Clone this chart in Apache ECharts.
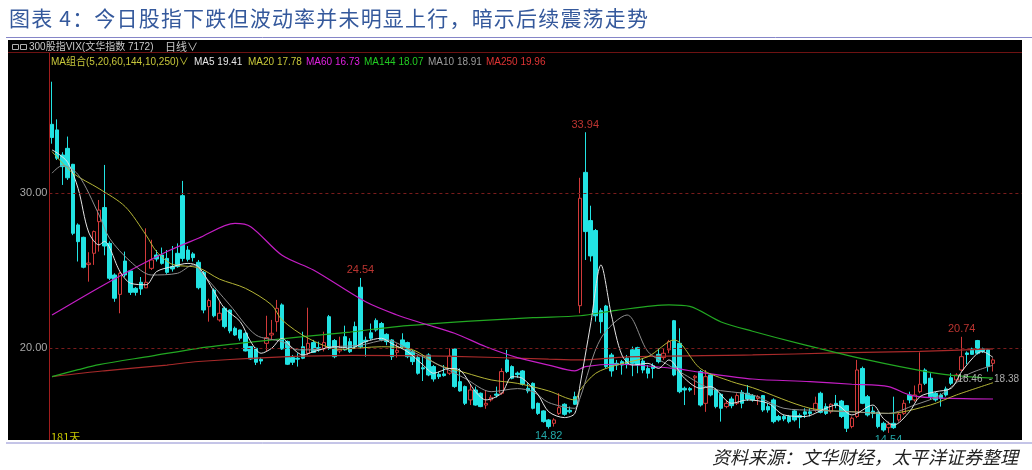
<!DOCTYPE html>
<html><head><meta charset="utf-8">
<script src="https://cdn.jsdelivr.net/npm/echarts@6/dist/echarts.min.js"></script>
<style>html,body{margin:0;padding:0;background:#fff}#c{width:1032px;height:470px}</style>
</head><body><div id="c"></div>
<script>
// ---------- data ----------
const slotCount = 186;          // 181 trading days + empty slots on the right
const dayLabel = '181天';
const opens = [
34.45,34.09,32.47,32.9,31.87,27.96,27.16,25.4,26.13,28.17,
29.08,26.77,24.73,23.48,25.63,24.99,23.87,24.26,23.9,25.16,
26.02,26.02,25.8,25.27,26.13,29.85,26.34,26.09,25.55,24.9,
22.69,23.76,21.83,22.58,22.47,21.29,21.18,20.97,20.11,20.0,
19.29,20.32,20.86,21.72,22.8,20.43,19.4,19.36,20.1,19.68,
20.37,20.04,19.96,22.04,20.5,19.83,20.75,20.43,21.4,23.94,
20.52,21.0,21.8,21.6,20.9,20.54,19.74,20.54,20.37,19.78,
19.4,18.75,19.57,18.82,18.32,18.35,18.39,19.96,17.85,17.53,
16.67,17.31,17.1,16.34,16.67,17.05,17.1,19.25,18.82,18.4,
18.54,17.42,17.74,16.45,15.96,15.38,15.16,15.8,16.39,16.0,
16.88,22.75,31.35,28.24,27.6,22.43,22.73,19.57,19.03,19.14,
19.36,19.9,20.04,19.18,18.7,18.88,19.61,19.4,19.9,21.78,
20.32,17.42,17.4,18.1,18.5,16.45,18.28,17.31,17.03,16.24,
16.73,16.45,17.16,17.1,16.95,16.77,16.95,16.24,16.67,15.6,
15.6,15.6,15.96,15.66,15.9,15.9,16.02,17.1,16.24,15.91,
16.45,16.6,16.3,14.95,15.6,18.7,16.88,15.95,15.87,15.16,
14.88,15.16,15.38,15.8,16.99,16.67,17.2,18.6,18.07,17.1,
16.99,17.38,18.1,17.96,18.6,19.7,19.96,20.5,19.96,19.9,19.03];
const closes = [
33.6,32.26,31.72,31.0,27.42,26.88,25.23,25.5,27.53,28.92,
26.6,24.52,23.23,24.84,24.73,23.61,23.61,23.83,24.26,25.7,
25.76,25.48,24.9,25.12,25.27,25.8,25.74,25.85,23.91,22.47,
23.08,22.1,22.26,21.4,21.12,20.86,20.65,19.83,19.31,19.1,
19.18,20.69,20.97,22.58,19.96,18.97,19.1,19.3,19.36,20.32,
19.74,19.9,20.37,20.0,19.46,19.94,19.9,19.78,20.1,20.1,
20.43,20.65,21.18,20.54,20.43,19.46,19.87,20.1,19.46,19.14,
18.39,18.67,18.28,18.02,18.17,18.24,19.5,17.53,17.25,16.45,
17.31,16.34,16.24,16.45,16.84,16.97,18.5,18.5,18.07,18.3,
17.68,17.25,16.13,15.8,15.27,14.95,15.38,16.17,15.74,15.9,
16.39,29.68,27.53,25.96,22.1,21.72,18.82,18.54,18.92,18.92,
18.97,19.03,18.92,18.6,18.39,18.7,19.14,19.68,20.43,18.28,
17.2,17.31,17.31,18.2,16.34,18.17,16.99,16.24,16.13,16.45,
16.3,16.95,16.45,16.73,16.67,16.88,16.02,16.02,15.27,15.38,
15.44,15.27,15.38,15.55,15.75,15.8,16.45,15.87,15.8,16.39,
16.34,15.6,14.84,15.49,18.6,16.45,15.7,15.8,14.95,14.73,
15.1,14.88,15.74,16.45,16.67,16.99,17.68,17.74,16.88,16.67,
16.77,16.99,17.74,18.28,19.46,19.6,19.61,19.68,19.8,18.82,19.25];
const lows = [
33.2,32.15,30.54,30.86,27.3,25.6,25.16,24.3,25.38,26.24,
26.0,24.4,23.0,22.26,24.6,23.44,23.4,23.44,23.9,25.05,
25.6,25.4,24.8,24.95,25.2,25.6,25.6,25.6,23.8,22.26,
21.72,22.0,21.72,21.29,20.97,20.8,20.5,19.8,19.25,18.92,
18.97,19.8,20.6,21.07,19.9,18.92,18.92,18.82,19.3,19.57,
19.7,19.78,19.8,19.9,19.36,19.68,19.85,19.7,20.0,20.0,
19.46,20.54,21.07,20.45,20.2,19.25,19.4,20.0,19.36,18.92,
18.3,17.89,18.2,17.85,18.02,18.17,18.28,17.45,17.2,16.34,
16.34,16.3,16.2,16.1,16.56,16.82,17.0,18.4,18.0,18.1,
17.6,17.1,16.06,15.7,15.2,14.82,14.95,15.7,15.65,15.8,
16.34,22.26,25.7,25.6,21.72,20.97,18.7,18.17,18.6,18.3,
18.7,18.2,18.39,18.39,18.06,18.06,19.03,19.25,19.68,18.2,
17.1,16.34,17.2,16.99,16.24,15.9,16.9,16.13,15.27,16.13,
16.13,16.34,16.13,16.6,16.56,16.34,15.9,15.85,15.16,15.27,
15.3,15.16,15.27,14.84,15.5,15.6,15.9,15.8,15.7,15.8,
16.13,15.5,14.6,14.84,15.5,16.4,15.6,15.49,14.84,14.62,
14.54,14.8,15.27,15.7,16.45,16.56,17.1,17.63,16.67,16.56,
16.24,16.88,17.63,17.85,18.5,18.97,19.57,19.6,19.7,18.5,18.5];
const highs = [
37.2,34.77,32.65,33.66,31.9,28.06,27.2,26.2,27.6,29.57,
31.83,26.9,24.84,24.95,26.24,25.0,23.95,24.6,27.74,27.0,
26.34,26.5,26.34,26.6,26.77,30.8,26.6,26.2,25.7,25.0,
23.2,23.87,23.0,22.69,22.5,21.4,21.2,21.07,20.15,20.05,
19.4,22.1,21.83,23.12,22.9,20.5,19.57,19.68,21.07,22.62,
20.54,20.43,21.07,22.15,20.6,20.75,21.46,20.65,21.72,24.54,
20.75,21.6,21.93,21.7,20.97,20.6,20.32,20.97,20.43,19.9,
19.57,19.6,19.68,18.92,18.49,18.92,20.0,20.0,18.71,17.6,
17.63,17.53,17.15,17.31,16.99,17.53,18.71,19.9,18.9,18.5,
18.6,17.74,17.8,16.5,16.0,15.44,15.49,17.1,16.45,16.24,
17.2,31.0,33.94,29.2,27.7,22.58,22.8,19.7,19.25,19.25,
19.57,20.11,20.1,19.36,18.92,19.03,20.0,20.0,20.54,21.83,
21.29,17.53,17.5,18.28,18.6,18.6,18.39,17.42,17.1,16.67,
16.88,17.1,17.31,17.63,17.05,16.99,16.99,16.45,16.77,15.7,
15.7,15.7,16.02,15.8,16.13,16.13,16.88,17.2,16.45,16.45,
16.99,16.67,16.34,15.6,19.25,18.82,16.99,16.24,15.91,15.27,
15.27,16.88,15.87,16.67,17.2,17.6,19.74,18.71,18.39,17.2,
17.1,17.53,18.39,18.39,20.74,19.8,20.04,20.54,20.04,20.0,19.36];

// moving averages as [day index, value]
const ma5 = [[0,32.8],[1,32.6],[3,32.0],[5,30.3],[7,27.5],[9,26.67],[10,26.9],[13,24.95],[15,24.2],[18,24.1],[20,24.95],[23,25.27],[26,25.48],[28,25.27],[31,23.66],[33,22.58],[36,21.72],[38,20.43],[40,19.68],[42,20.0],[44,20.65],[46,20.0],[48,19.57],[50,19.78],[54,20.1],[57,20.0],[60,20.43],[63,20.65],[65,20.3],[68,19.78],[71,18.92],[73,18.39],[76,18.7],[78,18.6],[81,17.2],[83,16.67],[86,17.1],[88,18.17],[90,18.06],[93,16.99],[95,15.91],[98,15.53],[100,15.8],[101,17.63],[103,21.5],[105,25.38],[107,22.15],[109,19.57],[111,18.92],[114,19.03],[116,18.7],[118,19.25],[121,18.06],[124,17.42],[126,17.53],[130,16.45],[133,16.67],[137,16.45],[140,15.7],[144,15.6],[148,16.13],[150,16.34],[153,15.7],[157,16.34],[159,15.48],[161,15.05],[164,15.9],[166,16.88],[169,17.2],[172,17.42],[174,18.5],[177,19.68],[178,19.78],[180,19.41]];
const ma10 = [[0,31.3],[2,31.8],[5,31.2],[9,28.6],[11,27.1],[15,25.6],[19,24.73],[24,24.84],[27,25.38],[29,24.73],[34,22.8],[39,20.86],[44,20.43],[47,19.9],[50,19.9],[54,20.1],[59,20.2],[64,20.54],[69,19.78],[74,18.92],[79,18.06],[84,17.2],[89,17.4],[92,17.2],[95,16.5],[100,16.13],[101,16.8],[105,20.65],[110,22.15],[114,19.78],[118,18.9],[121,18.3],[126,17.4],[134,16.99],[140,16.13],[146,16.0],[153,15.9],[160,15.8],[165,16.34],[170,16.99],[175,18.28],[180,18.91]];
const ma20 = [[0,32.69],[4,31.3],[9,30.3],[14,29.14],[18,27.3],[20,26.24],[23,25.42],[28,25.2],[32,24.47],[37,23.87],[42,22.8],[44,21.83],[49,20.65],[55,19.94],[63,20.1],[69,19.9],[74,18.92],[79,18.43],[84,17.96],[89,17.74],[95,17.25],[100,16.67],[101,17.3],[104,18.39],[108,18.92],[114,19.46],[119,20.54],[124,18.7],[130,17.85],[134,17.46],[145,16.13],[153,15.91],[160,15.8],[168,16.34],[173,16.99],[180,17.78]];
const ma60 = [[0,22.15],[11,24.3],[22,26.24],[28,27.1],[35,28.06],[38,27.85],[44,26.0],[50,25.05],[60,23.0],[66,22.15],[71,21.6],[77,20.97],[83,20.1],[89,19.4],[95,18.92],[100,18.54],[102,18.82],[108,18.97],[119,18.7],[124,18.45],[134,18.02],[145,17.85],[153,17.68],[160,17.53],[164,17.0],[168,16.82],[180,16.73]];
const ma144 = [[0,18.17],[5,18.62],[9,18.95],[19,19.5],[28,20.0],[38,20.4],[48,20.75],[57,21.05],[66,21.4],[80,21.75],[92,21.98],[101,22.1],[108,22.45],[118,22.8],[122,22.7],[128,21.7],[134,21.1],[143,20.3],[156,19.25],[168,18.45],[174,18.2],[180,18.07]];
const ma250 = [[0,18.17],[10,18.55],[22,18.92],[28,19.15],[44,19.45],[57,19.55],[75,19.5],[95,19.3],[101,19.25],[110,19.45],[134,19.57],[150,19.7],[166,19.8],[180,19.96]];

const yTicks = [20, 30];
const extremes = [[102,33.94,'top'],[59,24.54,'top'],[174,20.74,'top'],[95,14.82,'bottom'],[160,14.54,'bottom']];
const endLabels = [[173,18.02,'18.46'],[179,18.02,'-'],[180,18.02,'18.38']];
const legendItems = [['MA5',19.41,'#e6e6e6',194],['MA20',17.78,'#c8c83a',248],['MA60',16.73,'#e020e0',306],['MA144',18.07,'#22cc22',364],['MA10',18.91,'#9c9c9c',428],['MA250',19.96,'#e03434',486]];
const titleText = '图表 4：今日股指下跌但波动率并未明显上行，暗示后续震荡走势';
const sourceText = '资料来源：文华财经，太平洋证券整理';
const headerText = '300股指VIX(文华指数 7172)';

// ---------- chart ----------
const categories = Array.from({length: slotCount}, (_, k) => String(k + 1));
const candles = opens.map((o, k) => [o, closes[k], lows[k], highs[k]]);
const NUM = '"Liberation Sans","Noto Sans CJK SC",sans-serif';
const CJK = '"Noto Sans CJK SC",sans-serif';

function maSeries(name, data, color, width) {
  return {name, type: 'line', data, smooth: 0.3, showSymbol: false, symbol: 'none',
    lineStyle: {color, width: width || 1}, silent: true, z: 3};
}

// letter-spaced text: each character stays real text, spread between x0 and x1
function spacedText(str, font, x0, x1, y, fill, z) {
  const ctx = document.createElement('canvas').getContext('2d');
  ctx.font = font;
  const chars = Array.from(str);
  const widths = chars.map(ch => ctx.measureText(ch).width);
  const total = widths.reduce((a, b) => a + b, 0);
  const gap = (x1 - x0 - total) / (chars.length - 1);
  let x = x0;
  return chars.map((ch, k) => {
    const el = {type: 'text', x, y, style: {text: ch, font, fill, verticalAlign: 'middle'}, z};
    x += widths[k] + gap;
    return el;
  });
}

const chart = echarts.init(document.getElementById('c'), null, {renderer: 'canvas'});
const titleFont = '21px ' + CJK;
const graphics = [
  {type: 'rect', shape: {x: 8, y: 40, width: 1014, height: 400}, style: {fill: '#000'}, z: -10},
  ...spacedText(titleText, titleFont, 9, 648, 18, '#35599c', 5),
  {type: 'line', shape: {x1: 6, y1: 37.5, x2: 1032, y2: 37.5}, style: {stroke: '#8585c8', lineWidth: 1}},
  {type: 'rect', shape: {x: 12.5, y: 44.5, width: 6, height: 5}, style: {fill: 'none', stroke: '#b0b0b0', lineWidth: 1}, z: 5},
  {type: 'rect', shape: {x: 20.5, y: 44.5, width: 6, height: 5}, style: {fill: 'none', stroke: '#b0b0b0', lineWidth: 1}, z: 5},
  {type: 'text', x: 29, y: 47, style: {text: headerText, font: '10px ' + NUM, fill: '#c8c8c8', verticalAlign: 'middle'}, z: 5},
  {type: 'text', x: 165, y: 47, style: {text: '日线∨', font: '11px ' + CJK, fill: '#c8c8c8', verticalAlign: 'middle'}, z: 5},
  {type: 'line', shape: {x1: 8, y1: 52.5, x2: 1022, y2: 52.5}, style: {stroke: '#6e1212', lineWidth: 1}, z: 5},
  {type: 'text', x: 51, y: 62, style: {text: 'MA组合(5,20,60,144,10,250)∨', font: '10px ' + NUM, fill: '#c8c83a', verticalAlign: 'middle'}, z: 5},
  {type: 'text', x: 51, y: 437, style: {text: dayLabel, font: '11px ' + CJK, fill: '#c8c800', verticalAlign: 'middle'}, z: 5},
  {type: 'rect', shape: {x: 0, y: 440, width: 1032, height: 30}, style: {fill: '#fff'}, z: 100},
  {type: 'line', shape: {x1: 6, y1: 443, x2: 1032, y2: 443}, style: {stroke: '#8a8ad0', lineWidth: 1}, z: 101},
  {type: 'text', x: 712, y: 457, style: {text: sourceText, font: 'italic 18px ' + CJK, fill: '#222', verticalAlign: 'middle'}, z: 101}
];
legendItems.forEach(([n, v, col, x]) => {
  graphics.push({type: 'text', x, y: 62, style: {text: n + ' ' + v.toFixed(2), font: '10px ' + NUM, fill: col, verticalAlign: 'middle'}, z: 5});
});

chart.setOption({
  animation: false,
  backgroundColor: '#fff',
  grid: {left: 49.4, right: 10.2, top: 53, bottom: 30, outerBoundsMode: 'none'},
  xAxis: {type: 'category', data: categories, boundaryGap: true,
    axisLine: {show: false}, axisTick: {show: false}, axisLabel: {show: false}, splitLine: {show: false}},
  yAxis: {type: 'value', min: 14.084, max: 39.052, scale: true,
    axisLine: {show: true, lineStyle: {color: '#a01c1c', width: 1}}, axisTick: {show: false},
    axisLabel: {show: false}, splitLine: {show: false}},
  graphic: graphics,
  series: [
    {type: 'candlestick', data: candles, barWidth: 4, z: 2,
      itemStyle: {color: '#000', color0: '#22e3e3', borderColor: '#d23a3a', borderColor0: '#22e3e3', borderWidth: 1},
      markLine: {silent: true, symbol: ['none', 'none'], animation: false,
        lineStyle: {color: '#7a1c1c', type: [3, 3], width: 1},
        label: {position: 'start', distance: 2, color: '#a8a8a8', fontSize: 11, fontFamily: 'Liberation Sans',
          formatter: p => Number(p.value).toFixed(2)},
        data: yTicks.map(v => ({yAxis: v}))}},
    maSeries('MA250', ma250, '#a82a2a', 1.2),
    maSeries('MA144', ma144, '#22a822', 1.2),
    maSeries('MA60', ma60, '#c41ec4', 1.2),
    maSeries('MA20', ma20, '#b4b436', 1),
    maSeries('MA10', ma10, '#8e8e8e', 1),
    maSeries('MA5', ma5, '#e4e4e4', 1),
    {type: 'scatter', symbolSize: 0, silent: true, z: 6,
      data: extremes.map(([i, v, pos]) => ({value: [i, v], label: {position: pos,
        color: pos === 'top' ? '#e8413c' : '#2ad0d0'}})),
      label: {show: true, distance: 2, fontSize: 11, fontFamily: 'Liberation Sans',
        formatter: p => p.value[1].toFixed(2)}},
    {type: 'scatter', symbolSize: 0, silent: true, z: 6,
      data: endLabels.map(([i, v, t]) => ({value: [i, v], name: t})),
      label: {show: true, position: 'right', distance: 1, fontSize: 10, color: '#d4d4d4',
        fontFamily: 'Liberation Sans', formatter: p => p.name}}
  ]
});
</script></body></html>
